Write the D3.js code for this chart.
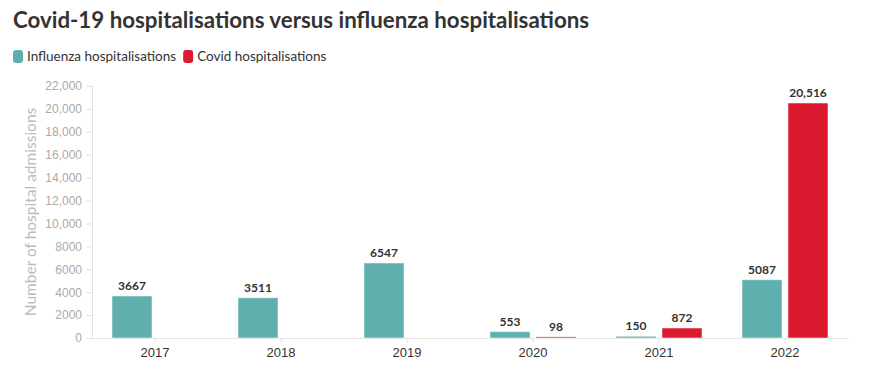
<!DOCTYPE html>
<html>
<head>
<meta charset="utf-8">
<script src="https://cdn.jsdelivr.net/npm/d3@7"></script>
<style>
  body { margin: 0; background: #fff; font-family: Lato, "Noto Sans", sans-serif; }
</style>
</head>
<body>
<div id="chart"></div>
<script>
var years = ["2017", "2018", "2019", "2020", "2021", "2022"];
var seriesNames = ["Influenza hospitalisations", "Covid hospitalisations"];
var seriesColors = ["#5fafaf", "#dc1a2f"];
var influenza = [3667, 3511, 6547, 553, 150, 5087];
var covid = [null, null, null, 98, 872, 20516];
var yTicks = [0, 2000, 4000, 6000, 8000, 10000, 12000, 14000, 16000, 18000, 20000, 22000];

var width = 876, height = 374;
var plotLeft = 92, plotRight = 848, plotTop = 86, plotBottom = 338;

var svg = d3.select("#chart").append("svg").attr("width", width).attr("height", height);

// title
svg.append("text")
  .attr("x", 13).attr("y", 28)
  .attr("font-size", 22.3).attr("font-weight", 700).attr("fill", "#333")
  .text("Covid-19 hospitalisations versus influenza hospitalisations");

// legend
var lx = 13;
seriesNames.forEach(function(name, i) {
  var g = svg.append("g").attr("transform", "translate(" + lx + ",50)");
  g.append("rect").attr("width", 10).attr("height", 13).attr("rx", 3).attr("fill", seriesColors[i]);
  var t = g.append("text").attr("x", 14).attr("y", 11).attr("font-size", 13.5).attr("fill", "#333").text(name);
  lx += 14 + t.node().getComputedTextLength() + 7;
});

var x0 = d3.scaleBand().domain(years).range([plotLeft, plotRight]);
var x1 = d3.scaleBand().domain([0, 1]).range([20, x0.bandwidth() - 20]).paddingInner(0.13);
var y = d3.scaleLinear().domain([0, 22000]).range([plotBottom, plotTop]);

// y axis
var yAxis = svg.append("g").attr("transform", "translate(" + plotLeft + ",0)")
  .call(d3.axisLeft(y).tickValues(yTicks).tickSize(6).tickPadding(4)
    .tickFormat(function(d) { return d >= 10000 ? d3.format(",")(d) : d; }));
yAxis.select(".domain").attr("stroke", "#e3e3e3");
yAxis.selectAll(".tick line").attr("stroke", "#e3e3e3");
yAxis.selectAll("text").attr("font-size", 12).attr("fill", "#aaa").attr("font-family", "inherit");

// x axis
var xAxis = svg.append("g").attr("transform", "translate(0," + plotBottom + ")")
  .call(d3.axisBottom(x0).tickSize(5).tickPadding(5).tickSizeOuter(0));
xAxis.select(".domain").attr("stroke", "#e3e3e3");
xAxis.selectAll(".tick line").attr("stroke", "#e3e3e3");
xAxis.selectAll("text").attr("font-size", 13).attr("fill", "#333").attr("font-family", "inherit");

// y label
svg.append("text")
  .attr("transform", "translate(36," + ((plotTop + plotBottom) / 2) + ") rotate(-90)")
  .attr("text-anchor", "middle").attr("font-size", 15.5).attr("fill", "#bbb")
  .text("Number of hospital admissions");

// bars
var rows = [];
years.forEach(function(yr, i) {
  [influenza[i], covid[i]].forEach(function(v, s) {
    if (v != null) rows.push({ year: yr, s: s, v: v });
  });
});

svg.append("g").selectAll("rect").data(rows).join("rect")
  .attr("x", function(d) { return x0(d.year) + x1(d.s); })
  .attr("y", function(d) { return y(d.v); })
  .attr("width", x1.bandwidth())
  .attr("height", function(d) { return plotBottom - y(d.v); })
  .attr("fill", function(d) { return seriesColors[d.s]; })
  .attr("stroke", "#fff").attr("stroke-opacity", 0.5).attr("stroke-width", 1);

svg.append("g").selectAll("text").data(rows).join("text")
  .attr("x", function(d) { return x0(d.year) + x1(d.s) + x1.bandwidth() / 2; })
  .attr("y", function(d) { return y(d.v) - 6; })
  .attr("text-anchor", "middle").attr("font-size", 12).attr("font-weight", 700).attr("fill", "#333")
  .text(function(d) { return d.v >= 10000 ? d3.format(",")(d.v) : d.v; });
</script>
</body>
</html>
